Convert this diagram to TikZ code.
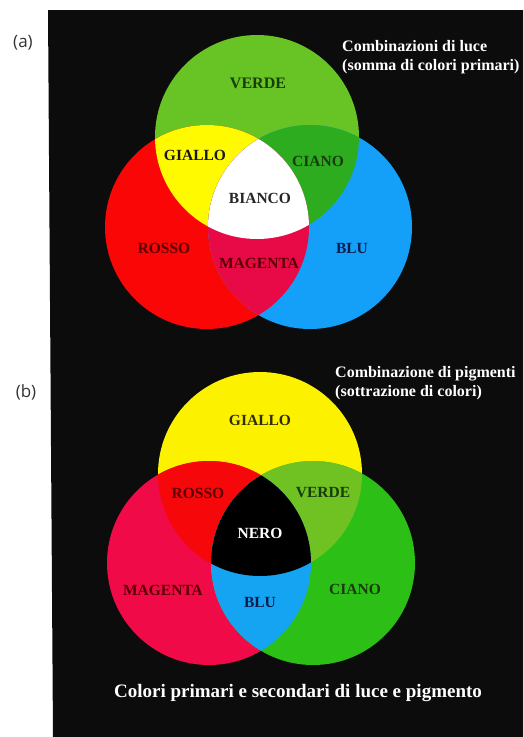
\documentclass[tikz,border=0pt]{standalone}
\usepackage{fontspec}
\setmainfont{Liberation Serif}
\newfontfamily\labfont{Open Sans}
\definecolor{panelbk}{RGB}{12,12,12}
\definecolor{aGreen}{RGB}{104,196,36}
\definecolor{aRed}{RGB}{250,6,6}
\definecolor{aBlue}{RGB}{20,160,248}
\definecolor{aYellow}{RGB}{255,250,0}
\definecolor{aCyan}{RGB}{44,172,30}
\definecolor{aMagenta}{RGB}{232,10,70}
\definecolor{bYellow}{RGB}{252,242,0}
\definecolor{bMagenta}{RGB}{240,10,72}
\definecolor{bGreen}{RGB}{44,192,22}
\definecolor{bRed}{RGB}{246,8,10}
\definecolor{bVerde}{RGB}{112,194,34}
\definecolor{bBlue}{RGB}{20,164,242}
\definecolor{txRed}{RGB}{90,0,0}
\definecolor{txGreen}{RGB}{24,60,12}
\definecolor{txBlue}{RGB}{14,30,80}
\definecolor{txYel}{RGB}{50,45,0}
\tikzset{
  lab/.style={font=\bfseries\fontsize{15.5}{16}\selectfont, inner sep=0pt},
  ttl/.style={font=\bfseries\fontsize{16}{19}\selectfont, text=white, align=left, anchor=north west, inner sep=0pt},
  panlab/.style={font=\labfont\fontsize{17}{18}\selectfont, text=black!80, inner sep=0pt}
}
\begin{document}
\begin{tikzpicture}[x=1pt,y=-1pt]
\useasboundingbox (0,0) rectangle (523,737);
\fill[white] (0,0) rectangle (523,737);
\fill[panelbk] (48,10) -- (523,10) -- (523,737) -- (53,737) -- cycle;
% ---- (a) light ----
\def\r{102}
\coordinate (aG) at (257,137);
\coordinate (aR) at (207,227);
\coordinate (aB) at (310,227);
\fill[aGreen] (aG) circle (\r);
\fill[aRed] (aR) circle (\r);
\fill[aBlue] (aB) circle (\r);
\begin{scope}\clip (aR) circle (\r); \fill[aYellow] (aG) circle (\r); \end{scope}
\begin{scope}\clip (aB) circle (\r); \fill[aCyan] (aG) circle (\r); \end{scope}
\begin{scope}\clip (aB) circle (\r); \fill[aMagenta] (aR) circle (\r); \end{scope}
\begin{scope}\clip (aB) circle (\r); \clip (aR) circle (\r); \fill[white] (aG) circle (\r); \end{scope}
\node[lab, text=txGreen, font=\bfseries\fontsize{16}{16}\selectfont] (averde) at (258,83) {VERDE};
\node[lab, text=black!90] (agiallo) at (195,155) {GIALLO};
\node[lab, text=txGreen] (aciano) at (318,161) {CIANO};
\node[lab, text=black!85] (abianco) at (260,198) {BIANCO};
\node[lab, text=txRed] (arosso) at (164,248) {ROSSO};
\node[lab, text=txRed] (amagenta) at (259,263) {MAGENTA};
\node[lab, text=txBlue] (ablu) at (352,248) {BLU};
\node[ttl] (atitle) at (342,40) {Combinazioni di luce\\(somma di colori primari)};
\node[panlab] (alab) at (23,43) {(a)};
% ---- (b) pigment ----
\coordinate (bY) at (260,474);
\coordinate (bM) at (209,563);
\coordinate (bC) at (313,563);
\fill[bYellow] (bY) circle (\r);
\fill[bMagenta] (bM) circle (\r);
\fill[bGreen] (bC) circle (\r);
\begin{scope}\clip (bM) circle (\r); \fill[bRed] (bY) circle (\r); \end{scope}
\begin{scope}\clip (bC) circle (\r); \fill[bVerde] (bY) circle (\r); \end{scope}
\begin{scope}\clip (bC) circle (\r); \fill[bBlue] (bM) circle (\r); \end{scope}
\begin{scope}\clip (bC) circle (\r); \clip (bM) circle (\r); \fill[black] (bY) circle (\r); \end{scope}
\node[lab, text=txYel] (bgiallo) at (260,420) {GIALLO};
\node[lab, text=txRed] (brosso) at (198,493) {ROSSO};
\node[lab, text=txGreen] (bverde) at (323,493) {VERDE};
\node[lab, text=white] (bnero) at (260,533) {NERO};
\node[lab, text=txRed] (bmagenta) at (163,590) {MAGENTA};
\node[lab, text=txBlue] (bblu) at (260,602) {BLU};
\node[lab, text=txGreen] (bciano) at (355,589) {CIANO};
\node[ttl] (btitle) at (335,366) {Combinazione di pigmenti\\(sottrazione di colori)};
\node[panlab] (blab) at (26,392) {(b)};
\node[font=\bfseries\fontsize{19}{20}\selectfont, text=white, inner sep=0pt] (caption) at (298,693) {Colori primari e secondari di luce e pigmento};
\end{tikzpicture}
\end{document}
